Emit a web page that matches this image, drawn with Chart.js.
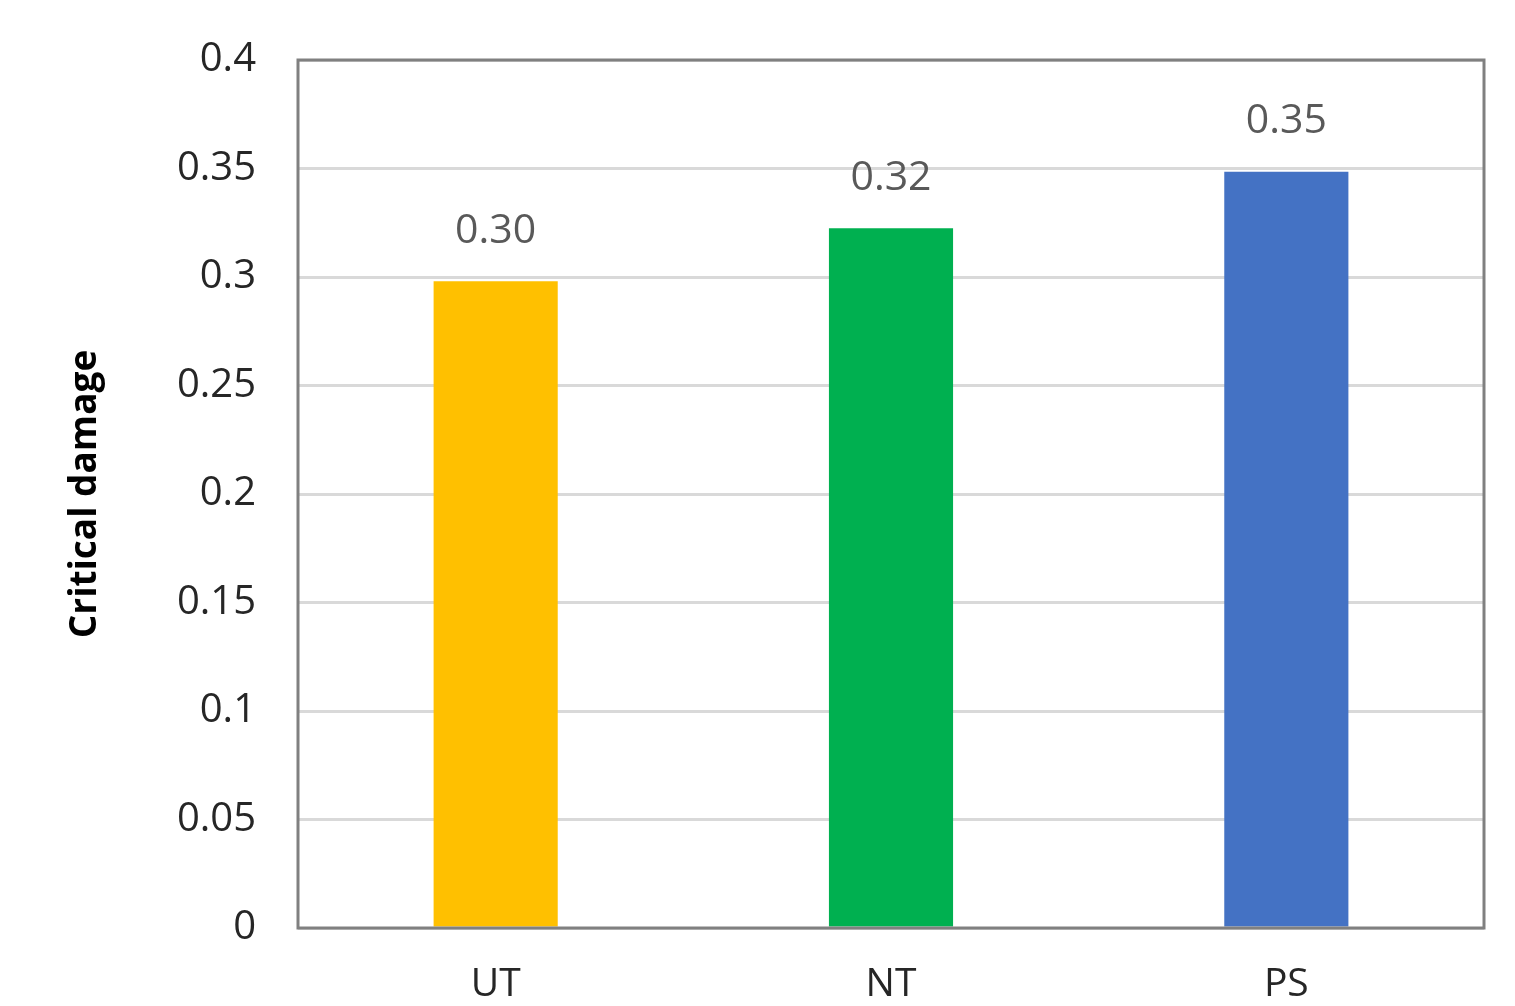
<!DOCTYPE html>
<html>
<head>
<meta charset="utf-8">
<script src="https://cdn.jsdelivr.net/npm/chart.js@4.4.1/dist/chart.umd.min.js"></script>
<style>
  html, body { margin: 0; padding: 0; background: #ffffff; }
  #wrap { width: 1515px; height: 1006px; position: relative; }
</style>
</head>
<body>
<div id="wrap"><canvas id="c" width="1515" height="1006"></canvas></div>
<script>
// Critical damage per test type
const categories = ['UT', 'NT', 'PS'];
const criticalDamage = [0.298, 0.3225, 0.3485];
const barColors = ['#FFC000', '#00B050', '#4472C4'];
const yTickValues = [0, 0.05, 0.1, 0.15, 0.2, 0.25, 0.3, 0.35, 0.4];

const FONT = '"Open Sans", "Noto Sans", sans-serif';

// Value labels above each bar
const valueLabels = {
  id: 'valueLabels',
  afterDatasetsDraw(chart) {
    const ctx = chart.ctx;
    const meta = chart.getDatasetMeta(0);
    const data = chart.data.datasets[0].data;
    ctx.save();
    ctx.font = '41px ' + FONT;
    ctx.fillStyle = '#595959';
    ctx.textAlign = 'center';
    ctx.textBaseline = 'middle';
    meta.data.forEach((bar, i) => {
      ctx.fillText(data[i].toFixed(2), bar.x, bar.y - 50);
    });
    ctx.restore();
  }
};

// Grey frame around the plot area
const plotFrame = {
  id: 'plotFrame',
  afterDraw(chart) {
    const a = chart.chartArea;
    const ctx = chart.ctx;
    ctx.save();
    ctx.strokeStyle = '#808080';
    ctx.lineWidth = 3;
    ctx.strokeRect(a.left, a.top, a.right - a.left, a.bottom - a.top);
    ctx.restore();
  }
};

new Chart(document.getElementById('c'), {
  type: 'bar',
  data: {
    labels: categories,
    datasets: [{
      data: criticalDamage,
      backgroundColor: barColors,
      borderWidth: 0,
      categoryPercentage: 1,
      barPercentage: 0.314
    }]
  },
  options: {
    responsive: false,
    animation: false,
    devicePixelRatio: 1,
    layout: { padding: { top: 60, right: 31, bottom: 0, left: 0 } },
    plugins: {
      legend: { display: false },
      tooltip: { enabled: false }
    },
    scales: {
      x: {
        grid: { display: false, drawTicks: false },
        border: { display: false },
        ticks: {
          color: '#262626',
          font: { family: FONT, size: 39 },
          padding: 33
        },
        afterFit(s) { s.height = 78; s.paddingLeft = 0; s.paddingRight = 0; }
      },
      y: {
        min: 0,
        max: 0.4,
        afterBuildTicks(s) { s.ticks = yTickValues.map(v => ({ value: v })); },
        grid: { color: '#d9d9d9', lineWidth: 3, drawTicks: false },
        border: { display: false },
        ticks: {
          color: '#262626',
          font: { family: FONT, size: 40 },
          padding: 42,
          callback: v => String(+v.toFixed(2))
        },
        title: {
          display: true,
          text: 'Critical damage',
          color: '#000000',
          font: { family: FONT, size: 37, weight: 'bold' },
          padding: { top: 63, bottom: 0 }
        },
        afterFit(s) { s.width = 298; s.paddingTop = 0; s.paddingBottom = 0; }
      }
    }
  },
  plugins: [valueLabels, plotFrame]
});
</script>
</body>
</html>
